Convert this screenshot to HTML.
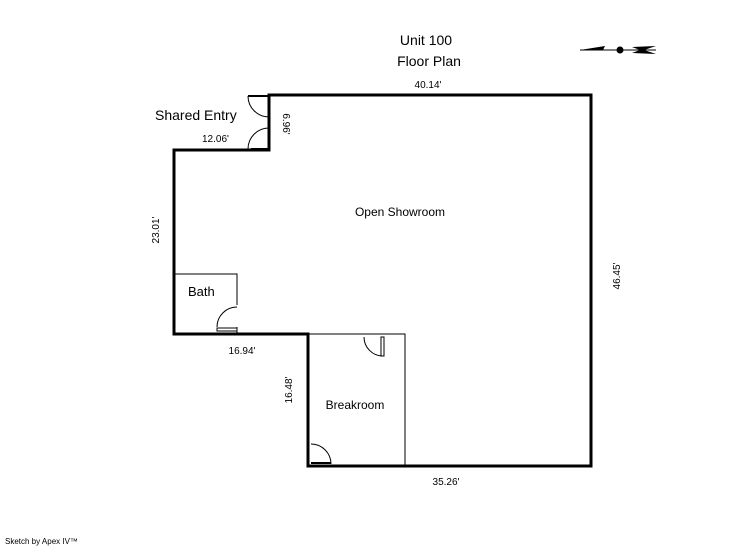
<!DOCTYPE html>
<html><head><style>body{margin:0;background:#fff}svg{display:block}text{font-family:"Liberation Sans",sans-serif;fill:#000}</style></head><body>
<svg width="746" height="547" viewBox="0 0 746 547">
<g fill="none" stroke="#000">
<path d="M269,95H591V466H308V334H174V150H269Z" stroke-width="3"/>
<path d="M174,274H237V305M237,327V334" stroke-width="1"/>
<path d="M308,334H405V466" stroke-width="1"/>
<path d="M248,96 A21,21 0 0 0 269,117" stroke-width="1"/>
<path d="M248,149 A21,21 0 0 1 269,128" stroke-width="1"/>
<path d="M248,96H268M251,149H268" stroke-width="2"/>
<path d="M237,307 A20,20 0 0 0 217,327" stroke-width="1"/>
<rect x="217" y="328" width="20" height="3" stroke-width="1"/>
<path d="M364,337 A19,19 0 0 0 383,356" stroke-width="1"/>
<rect x="381" y="337" width="3" height="19" stroke-width="1"/>
<path d="M311,444 A20,20 0 0 1 331,464" stroke-width="1"/>
<path d="M311,463H331" stroke-width="2"/>
<path d="M580,50H656" stroke-width="1"/>
</g>
<path d="M580,50 L605,46 L603,50Z M656,46 L632,47 L640,50 L632,53 L656,54 L644,50Z" fill="#000"/>
<circle cx="620" cy="50" r="3.5" fill="#000"/>
<text x="426" y="45" font-size="14" text-anchor="middle">Unit 100</text>
<text x="429" y="66" font-size="14" text-anchor="middle">Floor Plan</text>
<text x="428" y="88" font-size="10" text-anchor="middle">40.14'</text>
<text x="155" y="120" font-size="14">Shared Entry</text>
<text x="202" y="142" font-size="10">12.06'</text>
<text transform="translate(283,124) rotate(90)" font-size="10" text-anchor="middle">6.96'</text>
<text transform="translate(159,230) rotate(-90)" font-size="10" text-anchor="middle">23.01'</text>
<text x="400" y="216" font-size="12" text-anchor="middle">Open Showroom</text>
<text transform="translate(620,276) rotate(-90)" font-size="10" text-anchor="middle">46.45'</text>
<text x="188" y="296" font-size="13">Bath</text>
<text x="242" y="354" font-size="10" text-anchor="middle">16.94'</text>
<text transform="translate(292,390) rotate(-90)" font-size="10" text-anchor="middle">16.48'</text>
<text x="355" y="409" font-size="12" text-anchor="middle">Breakroom</text>
<text x="446" y="485" font-size="10" text-anchor="middle">35.26'</text>
<text x="5" y="544" font-size="8">Sketch by Apex IV™</text>
</svg>
</body></html>
